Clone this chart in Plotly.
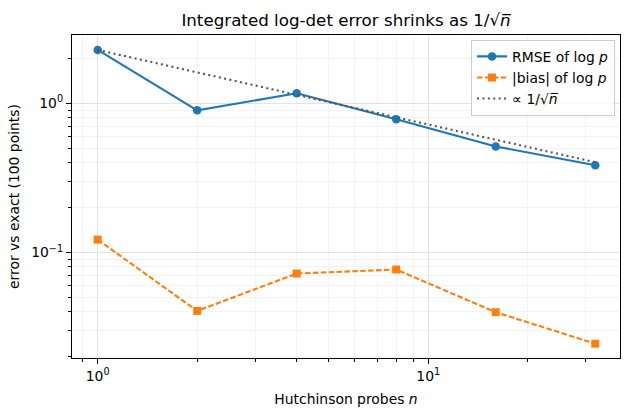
import plotly.graph_objects as go

# ---- data ----
probes = [1, 2, 4, 8, 16, 32]
rmse = [2.28, 0.898, 1.167, 0.781, 0.514, 0.384]
bias = [0.122, 0.0406, 0.0723, 0.0769, 0.0398, 0.0245]
ref_line = [2.28, 1.612, 1.14, 0.806, 0.57, 0.403]

x_major = [1, 10]
x_major_text = ["10<sup>0</sup>", "10<sup>1</sup>"]
x_minor = [0.9, 2, 3, 4, 5, 6, 7, 8, 9, 20, 30]
y_major = [0.1, 1]
y_major_text = ["10<sup>\u22121</sup>", "10<sup>0</sup>"]
y_minor = [0.02, 0.03, 0.04, 0.05, 0.06, 0.07, 0.08, 0.09,
           0.2, 0.3, 0.4, 0.5, 0.6, 0.7, 0.8, 0.9, 2]

FONT = "DejaVu Sans"
BLUE = "#1f77b4"
ORANGE = "#ff7f0e"

fig = go.Figure()
fig.add_trace(go.Scatter(
    x=probes, y=rmse, mode="lines+markers", name="RMSE of log <i>p</i>",
    line=dict(color=BLUE, width=2.1),
    marker=dict(symbol="circle", size=8.5, color=BLUE),
))
fig.add_trace(go.Scatter(
    x=probes, y=bias, mode="lines+markers", name="|bias| of log <i>p</i>",
    line=dict(color=ORANGE, width=2.1, dash="5.5px,2.4px"),
    marker=dict(symbol="square", size=8, color=ORANGE),
))
fig.add_trace(go.Scatter(
    x=probes, y=ref_line, mode="lines", name="\u221d 1/\u221a<i>n\u0305</i>",
    line=dict(color="#555555", width=2.1, dash="2px,3.4px"),
))

axis_common = dict(
    type="log", showline=True, linecolor="black", linewidth=1.1, mirror=True,
    ticks="outside", ticklen=5, tickwidth=1.1, tickcolor="black",
    showgrid=True, gridcolor="#e3e3e3", gridwidth=1,
    zeroline=False, tickfont=dict(family=FONT, size=13.9, color="black"),
    tickmode="array",
)

fig.update_xaxes(
    **axis_common,
    range=[-0.0777, 1.580],
    tickvals=x_major, ticktext=x_major_text,
    minor=dict(tickmode="array", tickvals=x_minor, ticks="outside", ticklen=3,
               tickwidth=0.8, tickcolor="black", showgrid=True,
               gridcolor="#f3f3f3", gridwidth=1),
    title=dict(text="Hutchinson probes <i>n</i>", font=dict(family=FONT, size=13.9, color="black"),
               standoff=11),
)
fig.update_yaxes(
    **axis_common,
    range=[-1.707, 0.458],
    tickvals=y_major, ticktext=y_major_text,
    minor=dict(tickmode="array", tickvals=y_minor, ticks="outside", ticklen=3,
               tickwidth=0.8, tickcolor="black", showgrid=True,
               gridcolor="#f3f3f3", gridwidth=1),
    title=dict(text="error vs exact (100 points)", font=dict(family=FONT, size=13.9, color="black"),
               standoff=8),
)

fig.update_layout(
    width=630, height=420,
    margin=dict(l=72, r=10, t=35, b=62, autoexpand=False),
    paper_bgcolor="white", plot_bgcolor="white",
    font=dict(family=FONT, size=13.9, color="black"),
    title=dict(text="Integrated log-det error shrinks as 1/\u221a<i>n\u0305</i>",
               x=346 / 630, xanchor="center", y=0.952, yanchor="middle",
               font=dict(family=FONT, size=16.7, color="black")),
    showlegend=True,
    legend=dict(x=0.991, y=0.985, xanchor="right", yanchor="top",
                bgcolor="rgba(255,255,255,0.8)", bordercolor="#cccccc", borderwidth=1,
                font=dict(family=FONT, size=13.9, color="black"),
                itemwidth=30, tracegroupgap=2),
)

fig.write_html("out.html")
